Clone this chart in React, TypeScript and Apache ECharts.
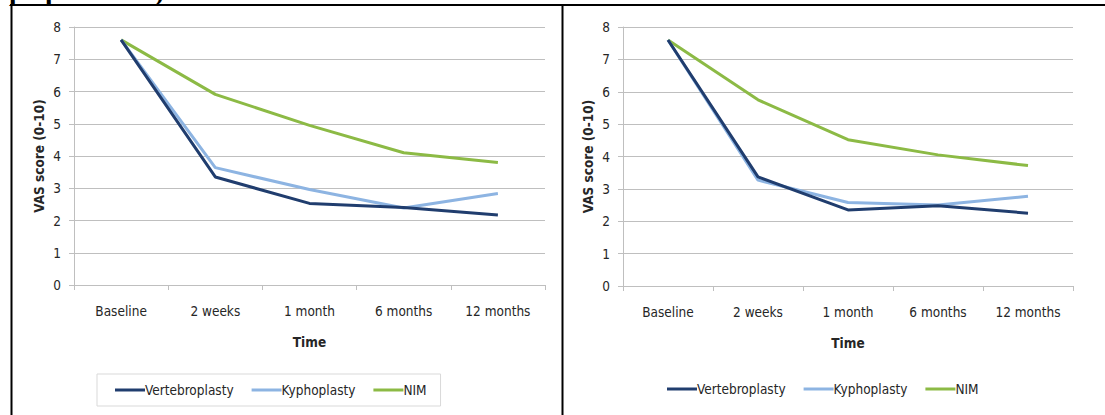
import React, { useEffect, useRef } from "react";
import * as echarts from "echarts";

const categories = ["Baseline", "2 weeks", "1 month", "6 months", "12 months"];
const seriesNames = ["Vertebroplasty", "Kyphoplasty", "NIM"];

// left panel
const leftVertebroplasty = [7.6, 3.35, 2.53, 2.4, 2.17];
const leftKyphoplasty = [7.6, 3.64, 2.96, 2.39, 2.84];
const leftNIM = [7.6, 5.91, 4.95, 4.1, 3.8];

// right panel
const rightVertebroplasty = [7.6, 3.37, 2.35, 2.48, 2.25];
const rightKyphoplasty = [7.6, 3.27, 2.58, 2.5, 2.77];
const rightNIM = [7.6, 5.75, 4.52, 4.05, 3.72];

const yTicks = [0, 1, 2, 3, 4, 5, 6, 7, 8];

const colors = ["#203D6E", "#8DB4E2", "#8CBA45"];
const FONT = "'Liberation Sans Narrow', 'DejaVu Sans Condensed', 'Liberation Sans', sans-serif";
const TXT = "#262626";

export default function App() {
  const ref = useRef<HTMLDivElement>(null);

  useEffect(() => {
    if (!ref.current) return;
    const chart = echarts.init(ref.current, undefined, { renderer: "svg" });

    const makeX = (gridIndex: number) => ({
      type: "category" as const,
      gridIndex,
      data: categories,
      boundaryGap: true,
      axisLine: { show: true, lineStyle: { color: "#BFBFBF", width: 1 } },
      axisTick: { show: true, length: 5, inside: false, alignWithLabel: false, lineStyle: { color: "#BFBFBF" } },
      axisLabel: { color: TXT, fontSize: 13.5, fontFamily: FONT, margin: 19, interval: 0 },
      name: "Time",
      nameLocation: "middle" as const,
      nameGap: 50,
      nameTextStyle: { color: TXT, fontSize: 13.5, fontWeight: "bold" as const, fontFamily: FONT },
      splitLine: { show: false },
    });

    const makeY = (gridIndex: number) => ({
      type: "value" as const,
      gridIndex,
      min: yTicks[0],
      max: yTicks[yTicks.length - 1],
      interval: 1,
      axisLine: { show: true, lineStyle: { color: "#BFBFBF", width: 1 } },
      axisTick: { show: true, length: 5, lineStyle: { color: "#BFBFBF" } },
      axisLabel: { color: TXT, fontSize: 13.5, fontFamily: FONT, margin: 13 },
      splitLine: { show: true, lineStyle: { color: "#BFBFBF", width: 1.2 } },
      name: "VAS score (0-10)",
      nameLocation: "middle" as const,
      nameRotate: 90,
      nameGap: 28,
      nameTextStyle: { color: TXT, fontSize: 13.5, fontWeight: "bold" as const, fontFamily: FONT },
    });

    const leftData = [leftVertebroplasty, leftKyphoplasty, leftNIM];
    const rightData = [rightVertebroplasty, rightKyphoplasty, rightNIM];

    const series: any[] = [];
    [leftData, rightData].forEach((set, gi) => {
      set.forEach((vals, i) => {
        series.push({
          type: "line",
          name: seriesNames[i],
          xAxisIndex: gi,
          yAxisIndex: gi,
          data: vals,
          symbol: "none",
          lineStyle: { color: colors[i], width: 3 },
          itemStyle: { color: colors[i] },
          z: 3 - i + 2,
        });
      });
    });

    const legendBase = {
      data: seriesNames.map((n) => ({ name: n })),
      icon: "rect",
      itemWidth: 30,
      itemHeight: 3,
      itemGap: 18,
      textStyle: { color: TXT, fontSize: 13.5, fontFamily: FONT, padding: [0, 0, 0, -5] },
      selectedMode: false,
    };

    chart.setOption({
      animation: false,
      backgroundColor: "#ffffff",
      color: colors,
      grid: [
        { left: 74, top: 27, width: 471, height: 258 },
        { left: 623, top: 27, width: 450, height: 259 },
      ],
      xAxis: [makeX(0), makeX(1)],
      yAxis: [makeY(0), makeY(1)],
      legend: [
        {
          ...legendBase,
          left: 97,
          top: 374,
          width: 343,
          padding: [9, 14, 9, 18],
          borderColor: "#D9D9D9",
          borderWidth: 1,
        },
        {
          ...legendBase,
          left: 667,
          top: 382,
          padding: 0,
        },
      ],
      series,
      graphic: [
        {
          type: "text",
          left: 9,
          top: -24,
          style: { text: "p", fontSize: 28, fontWeight: "bold", fontFamily: "'Liberation Serif', serif", fill: "#000" },
          silent: true,
        },
        {
          type: "text",
          left: 45,
          top: -24,
          style: { text: "p", fontSize: 28, fontWeight: "bold", fontFamily: "'Liberation Serif', serif", fill: "#000" },
          silent: true,
        },
        {
          type: "text",
          left: 155,
          top: -24,
          style: { text: ")", fontSize: 28, fontWeight: "bold", fontFamily: "'Liberation Serif', serif", fill: "#000" },
          silent: true,
        },
        {
          type: "rect",
          shape: { x: 10, y: 4, width: 1100, height: 2 },
          style: { fill: "#000" },
          silent: true,
          z: 100,
        },
        {
          type: "rect",
          shape: { x: 10.5, y: 4, width: 2, height: 420 },
          style: { fill: "#000" },
          silent: true,
          z: 100,
        },
        {
          type: "rect",
          shape: { x: 561.5, y: 4, width: 2, height: 420 },
          style: { fill: "#000" },
          silent: true,
          z: 100,
        },
      ],
    });

    return () => chart.dispose();
  }, []);

  return (
    <div
      ref={ref}
      style={{ position: "fixed", left: 0, top: 0, width: 1105, height: 415, background: "#fff" }}
    />
  );
}
